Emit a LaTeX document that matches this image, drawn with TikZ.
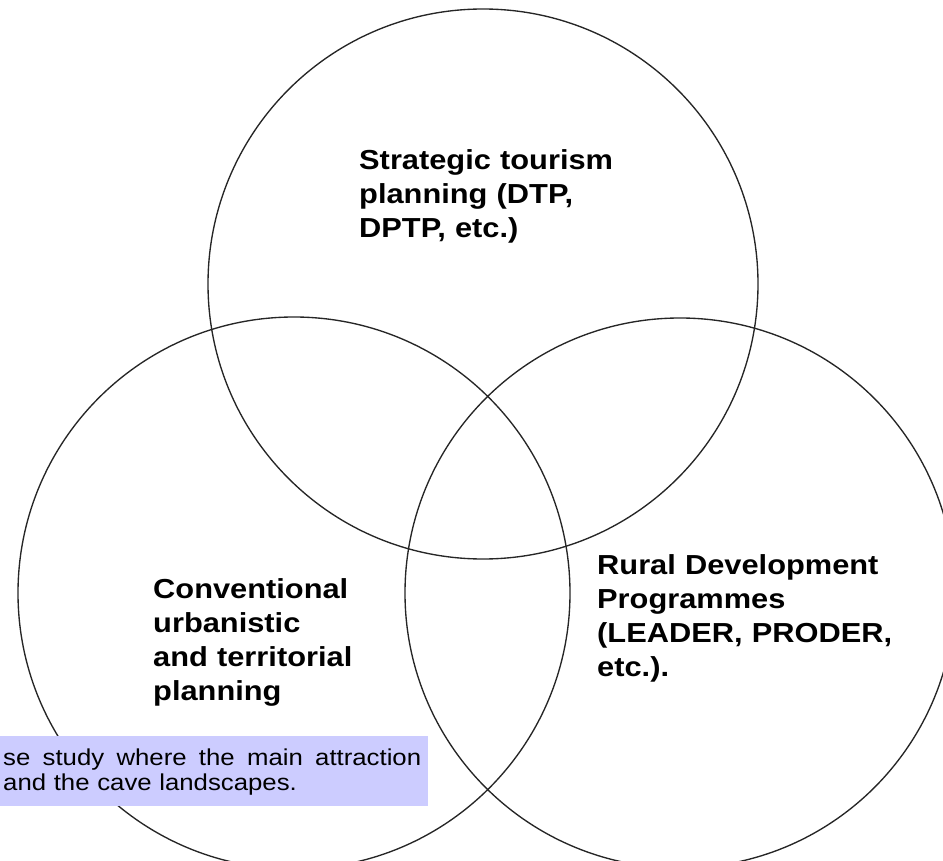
\documentclass[tikz,border=0pt]{standalone}
\usepackage{fontspec}
\setmainfont{Liberation Sans}[FakeStretch=1.12]
\definecolor{notefill}{RGB}{204,204,255}

\begin{document}
\begin{tikzpicture}[
    x=1pt, y=-1pt,
    every node/.style = {inner sep=0pt},
    setc/.style       = {draw=black!85, line width=1.35pt},
    setlabel/.style   = {anchor=base west, text width=330pt, align=left,
                         font=\fontsize{27.5}{34}\selectfont\bfseries},
    notetext/.style   = {anchor=base west, text width=425pt, align=left,
                         font=\fontsize{23}{25}\selectfont}
    ]
      \useasboundingbox (0,0) rectangle (943,861);
      \clip (0,0) rectangle (943,861);

      % circles --------------------------------------------------
      \coordinate (ctour)  at (483,284);
      \coordinate (curban) at (294,593);
      \coordinate (crural) at (680,593);
      \draw[setc] (ctour)  circle[radius=275pt];
      \draw[setc] (curban) circle[radius=276pt];
      \draw[setc] (crural) circle[radius=275pt];

      % labels ---------------------------------------------------
      \node[setlabel] (tour)  at (359,170) {Strategic tourism\\planning (DTP,\\DPTP, etc.)};
      \node[setlabel] (urban) at (153,598) {Conventional\\urbanistic\\and territorial\\planning};
      \node[setlabel] (rural) at (597,574) {Rural Development\\Programmes\\(LEADER, PRODER,\\etc.).};

      % note box -------------------------------------------------
      \fill[notefill] (0,736) rectangle (428,806);
      \node[notetext] (note) at (3,765)
            {\makebox[418pt][l]{se\hfill study\hfill where\hfill the\hfill main\hfill attraction}\\and the cave landscapes.};
    \end{tikzpicture}
\end{document}
